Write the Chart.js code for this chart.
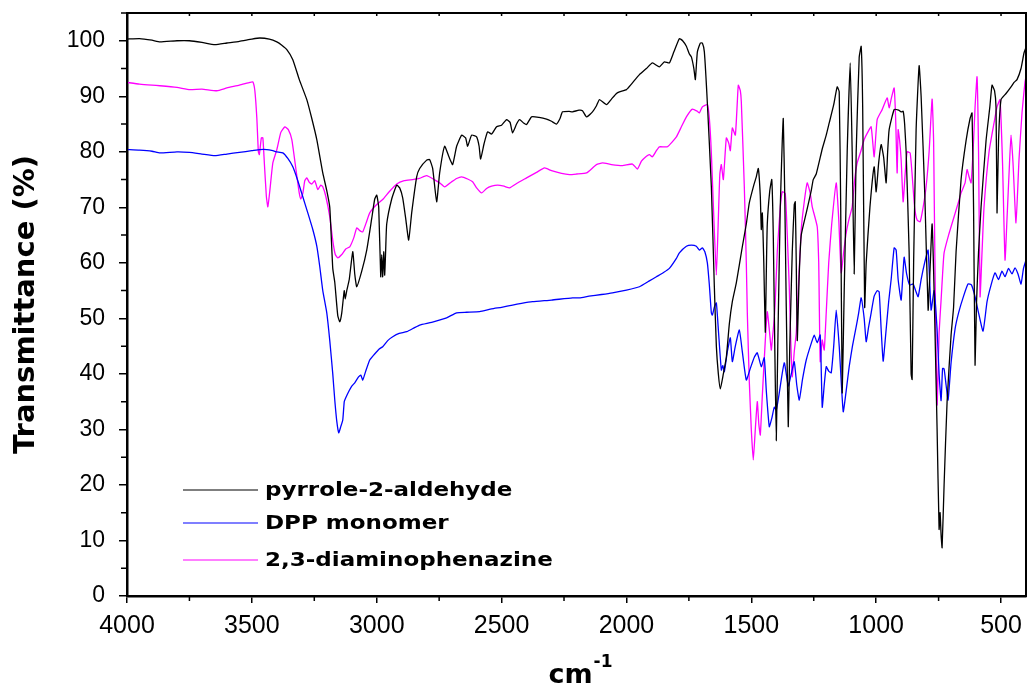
<!DOCTYPE html>
<html>
<head>
<meta charset="utf-8">
<script src="https://cdn.jsdelivr.net/npm/chart.js@4.4.0/dist/chart.umd.min.js"></script>
<style>
  html, body { margin: 0; padding: 0; background: #fff; }
  #wrap { width: 1027px; height: 687px; position: relative; }
</style>
</head>
<body>
<div id="wrap"><canvas id="ftir"></canvas></div>
<script>
// [wavenumber cm-1, transmittance %]
const pyrrole = [
  [4000,100.3],[3950,100.4],[3900,100.1],[3868,99.8],[3800,100.0],[3750,100.0],[3700,99.7],[3648,99.3],
  [3600,99.6],[3550,99.9],[3500,100.3],[3468,100.5],[3430,100.3],[3400,99.8],[3380,99.2],[3360,98.4],
  [3336,96.6],[3310,93],[3280,89.4],[3260,86],[3240,82.2],[3216,76.2],[3200,73],[3188,70],[3176,59],
  [3168,56.5],[3156,50.5],[3148,49.4],[3140,51],[3130,55],[3126,53.5],[3120,55],[3110,57],[3096,62],
  [3088,58],[3080,55.7],[3060,58.5],[3040,62.3],[3020,68],[3008,71.5],[3000,72.2],[2992,70],[2984,57.5],
  [2980,61.5],[2976,57.5],[2972,62],[2968,57.8],[2964,62.5],[2960,67],[2940,71.5],[2920,74],[2908,73.5],
  [2896,71.7],[2884,68],[2872,64.1],[2860,69],[2840,75.5],[2828,77],[2800,78.5],[2788,78.6],[2776,77],
  [2760,71],[2748,76.2],[2728,81],[2710,79],[2696,77.7],[2680,81],[2660,83],[2644,82.5],[2636,81],
  [2620,83],[2600,82.7],[2590,81],[2584,78.7],[2570,81.5],[2556,83.6],[2540,83.2],[2520,84.5],[2500,84.8],
  [2480,85.8],[2466,85.3],[2456,83.4],[2440,85],[2428,85.8],[2412,85.2],[2400,84.9],[2380,86.3],[2350,86.2],
  [2320,85.9],[2300,85.5],[2280,85],[2266,86],[2256,87.2],[2230,87.3],[2216,87.2],[2190,87.5],[2176,87.4],
  [2160,86.3],[2136,87.2],[2120,88.3],[2108,89.4],[2080,88.5],[2060,89.5],[2040,90.5],[2028,90.8],[2000,91.2],
  [1980,92.2],[1948,93.9],[1920,95],[1896,96],[1868,95.3],[1848,96.2],[1828,96],[1810,98],[1788,100.4],
  [1775,100],[1760,99],[1748,97.6],[1740,97.1],[1730,95],[1724,93],[1716,98],[1704,99.6],[1696,99.6],
  [1688,98],[1676,88.8],[1660,73.7],[1648,55.7],[1640,45],[1632,40],[1624,37.3],[1612,40],[1600,43],
  [1588,49],[1576,53],[1560,56.4],[1536,62.9],[1520,67],[1508,70.8],[1490,74],[1480,75.5],[1472,77],
  [1464,72],[1460,66],[1456,69],[1450,60],[1444,47.5],[1440,58],[1436,67],[1426,73],[1418,75],[1412,65],
  [1406,45],[1400,28],[1394,45],[1384,70],[1376,82],[1372,86],[1366,72],[1360,52],[1352,30.5],[1346,45],
  [1336,62],[1328,70.5],[1324,71],[1320,60],[1316,46],[1308,58],[1300,65],[1280,69],[1260,73],[1252,75],
  [1240,76],[1216,80.5],[1200,83],[1188,85.2],[1170,88.5],[1156,91.7],[1148,90.8],[1142,70],[1136,36.6],
  [1128,55],[1116,80],[1104,96],[1096,80],[1088,58],[1080,80],[1068,97],[1060,99],[1054,88],[1046,52],
  [1040,60],[1025,70],[1008,77.3],[1000,72.8],[990,78],[980,81.3],[970,79],[960,74.4],[954,80],[948,84],
  [928,87.6],[910,87.5],[900,87.2],[892,87.3],[886,85],[880,80],[868,62],[860,40],[856,39],[850,60],
  [840,84],[828,95.5],[820,90],[805,72],[792,51.5],[785,58],[776,67],[768,55],[756,30],[748,12],[744,15],
  [740,11],[736,8.7],[728,20],[716,35],[700,47],[690,52],[680,62],[660,75],[640,82],[624,86],[616,87],
  [610,70],[604,41.6],[598,53],[590,62],[580,70],[560,82],[545,88],[536,92],[526,91],[520,88],[516,69],
  [510,82],[500,89.4],[480,90.5],[460,91.7],[448,92.5],[436,93],[420,95],[408,97.8],[400,98.8]
];

const dppMonomer = [
  [4000,80.4],[3950,80.3],[3900,80.1],[3868,79.8],[3800,80.0],[3750,79.9],[3700,79.6],[3648,79.3],
  [3600,79.6],[3550,79.9],[3500,80.2],[3468,80.4],[3440,80.4],[3416,80.2],[3400,80.0],[3376,79.8],
  [3356,78.8],[3336,77.3],[3316,74.8],[3296,71.9],[3276,69],[3256,66],[3240,63],[3228,59.3],[3216,55],
  [3200,51],[3188,46],[3176,40],[3168,35.3],[3160,31.5],[3152,29.4],[3144,30.5],[3136,31.7],[3130,35],
  [3124,35.7],[3110,37],[3100,37.8],[3088,38.4],[3072,39.5],[3064,39.8],[3056,38.9],[3044,40.5],[3028,42.5],
  [3010,43.5],[2990,44.5],[2976,44.9],[2956,46],[2936,46.7],[2910,47.3],[2880,47.6],[2850,48.3],[2828,48.8],
  [2780,49.3],[2720,50.1],[2680,51],[2640,51.1],[2588,51.2],[2540,51.7],[2500,52],[2456,52.4],[2420,52.7],
  [2376,53],[2300,53.3],[2216,53.7],[2188,53.7],[2150,54],[2100,54.3],[2056,54.6],[2000,55.1],[1948,55.7],
  [1910,56.7],[1880,57.5],[1850,58.3],[1828,59],[1800,60.8],[1788,61.8],[1760,63],[1740,63.2],[1720,63],
  [1708,62.3],[1696,62.7],[1686,62],[1676,60],[1668,56],[1660,51],[1656,50.6],[1648,52],[1640,52.8],
  [1632,48],[1620,40.7],[1614,41.5],[1608,40.4],[1596,44],[1584,46.5],[1576,42.2],[1564,45],[1548,47.9],
  [1536,44],[1520,38.9],[1504,41],[1488,43],[1476,43.8],[1460,41.3],[1448,42.9],[1440,37],[1428,30.5],
  [1418,32],[1408,34],[1400,33.5],[1390,36],[1368,42],[1352,37.8],[1340,40],[1328,42.2],[1318,38],
  [1308,35.3],[1295,39],[1280,42.5],[1260,45.5],[1248,47],[1236,45.6],[1224,47],[1216,34],[1208,38],
  [1200,41.3],[1190,40.5],[1180,40.2],[1170,45],[1160,51.5],[1148,45],[1132,33.2],[1120,37],[1108,41.3],
  [1095,45],[1080,48.5],[1070,51],[1060,53.7],[1048,50],[1040,45.8],[1030,48.5],[1020,51],[1008,54],
  [996,55],[988,54.8],[980,48],[972,42.3],[964,46],[950,53],[940,57],[928,62.7],[920,62.3],[912,57],
  [900,53.3],[888,61],[878,58],[866,56],[852,56.2],[842,55],[832,53.9],[820,57],[806,60],[792,62.3],
  [780,51.5],[768,55],[756,48],[748,40],[740,35.2],[734,41],[728,40.9],[720,38],[712,35.3],[700,42],
  [684,48.1],[670,51],[650,54],[632,56.2],[618,56],[604,53.9],[590,51],[572,47.7],[556,53],[540,56],
  [524,58.2],[510,57],[496,58.5],[484,57.5],[470,59],[456,58],[444,59.1],[432,58],[420,56.2],[410,59],
  [400,60.5]
];

const diaminophenazine = [
  [4000,92.5],[3950,92.2],[3900,92.0],[3868,91.9],[3800,91.6],[3748,91.2],[3700,91.3],[3640,91.0],
  [3600,91.5],[3550,92.0],[3508,92.5],[3496,92.6],[3488,91],[3480,86],[3474,80],[3470,79.5],[3462,82.5],
  [3456,82.5],[3450,78],[3442,72],[3436,70.1],[3428,73],[3416,78],[3400,80.4],[3384,83.5],[3368,84.5],
  [3354,84],[3340,82.2],[3324,77],[3310,72.5],[3304,71.5],[3296,72.5],[3288,74.8],[3280,75.3],[3270,74.5],
  [3260,74.2],[3248,74.8],[3236,73.2],[3224,74],[3216,73.7],[3204,72],[3188,68.3],[3176,64],[3166,61.5],
  [3156,60.9],[3140,61.5],[3124,62.5],[3108,62.9],[3092,64.5],[3080,66.3],[3068,65.8],[3056,65.6],
  [3040,67.5],[3028,69],[3000,70.5],[2976,71.4],[2950,72.8],[2920,74.2],[2890,74.8],[2856,75],[2830,75.2],
  [2800,75.7],[2770,75],[2748,74.4],[2728,73.7],[2700,74.6],[2680,75.2],[2660,75.5],[2636,75.1],[2616,74.6],
  [2600,73.5],[2580,72.6],[2560,73.4],[2540,73.8],[2516,74],[2490,73.8],[2468,73.5],[2440,74.3],[2400,75.3],
  [2360,76.3],[2328,77.1],[2300,76.6],[2260,76.1],[2228,75.9],[2200,76],[2160,76.2],[2120,77.7],[2096,78],
  [2060,77.7],[2016,77.5],[1976,77.8],[1956,76.9],[1940,78.3],[1920,79.2],[1908,79.5],[1896,79.1],[1880,80.2],
  [1868,80.9],[1836,80.9],[1800,82.7],[1780,84.5],[1760,86.3],[1736,87.7],[1716,87.3],[1708,87],[1696,88.1],
  [1676,88.5],[1668,86],[1660,79.8],[1650,68],[1640,57.8],[1632,68],[1626,76],[1620,77.7],[1612,75],
  [1600,82.5],[1590,81.5],[1584,80.2],[1576,84.3],[1564,83],[1556,89],[1552,92],[1544,91],[1540,89],
  [1528,73.7],[1520,60],[1516,51],[1508,38.6],[1500,30],[1492,24.5],[1484,30],[1476,35],[1470,31],
  [1464,29],[1456,36],[1444,46],[1436,51.2],[1428,48],[1420,44.3],[1416,46.1],[1408,50],[1404,53.3],
  [1396,62],[1384,70],[1376,72.8],[1364,72.5],[1356,65],[1348,55.7],[1342,46],[1336,39.5],[1328,44],
  [1320,47.4],[1310,57],[1300,66],[1288,71],[1276,74.4],[1264,72.5],[1256,70.1],[1236,66.5],[1230,60],
  [1228,53.3],[1224,42.2],[1216,46.1],[1208,44.3],[1200,51],[1190,60],[1178,67],[1160,74.4],[1150,68],
  [1140,58.2],[1130,62],[1120,65.4],[1108,68],[1096,70.1],[1086,75],[1076,78],[1062,80],[1048,82.2],
  [1034,83.5],[1020,84.5],[1008,79.1],[996,85.8],[976,87.6],[956,89.7],[948,87.9],[940,89.5],[928,91.5],
  [922,86],[916,76.2],[912,84],[906,82],[900,78.6],[892,71],[884,76],[876,80],[864,79.8],[856,75.9],
  [846,70],[836,67.7],[824,67.4],[812,70],[800,73.7],[788,80],[776,89.5],[770,82],[768,73.7],[762,50],
  [756,34.4],[752,40],[748,47.4],[740,53.3],[734,58],[728,61.8],[710,65],[688,68.3],[670,71],[660,72.6],
  [644,74.4],[636,76.8],[628,75.5],[620,74.4],[612,80],[604,88],[596,93.5],[590,80],[584,53.9],[576,62],
  [568,70.1],[548,80],[528,85.2],[516,88.1],[504,89.4],[494,78],[484,60.5],[476,68],[466,78],[460,83],
  [452,78],[440,67.2],[428,78.6],[416,87],[404,92.6],[400,93.5]
];

const seriesNames = ['pyrrole-2-aldehyde', 'DPP monomer', '2,3-diaminophenazine'];
const seriesColors = ['#000000', '#0000ff', '#ff00ff'];

const xTicks = [4000, 3500, 3000, 2500, 2000, 1500, 1000, 500];
const xMinorTicks = [3750, 3250, 2750, 2250, 1750, 1250, 750];
const yTicks = [0, 10, 20, 30, 40, 50, 60, 70, 80, 90, 100];
const yMinorTicks = [5, 15, 25, 35, 45, 55, 65, 75, 85, 95, 105];

const toXY = arr => arr.map(p => ({ x: p[0], y: p[1] }));

// frame, minor ticks, legend inside plot, x title with superscript
const decorations = {
  id: 'decorations',
  afterDraw(chart) {
    const { ctx, chartArea: a, scales } = chart;
    const xs = scales.x, ys = scales.y;
    ctx.save();
    ctx.strokeStyle = '#000';
    ctx.lineWidth = 2;
    ctx.strokeRect(a.left, a.top, a.right - a.left, a.bottom - a.top);

    ctx.lineWidth = 1.5;
    ctx.beginPath();
    xMinorTicks.forEach(v => {
      const px = xs.getPixelForValue(v);
      ctx.moveTo(px, a.bottom); ctx.lineTo(px, a.bottom + 5);
    });
    xTicks.concat(xMinorTicks).forEach(v => {
      const px = xs.getPixelForValue(v);
      ctx.moveTo(px, a.top); ctx.lineTo(px, a.top + 3);
    });
    yMinorTicks.forEach(v => {
      const py = ys.getPixelForValue(v);
      ctx.moveTo(a.left, py); ctx.lineTo(a.left - 6, py);
    });
    ctx.stroke();

    // legend
    const legY = [490, 523, 560];
    chart.data.datasets.forEach((ds, i) => {
      ctx.strokeStyle = ds.borderColor;
      ctx.lineWidth = 1.2;
      ctx.beginPath();
      ctx.moveTo(183, legY[i]); ctx.lineTo(258, legY[i]);
      ctx.stroke();
      ctx.save();
      ctx.fillStyle = '#000';
      ctx.font = 'bold 20px "DejaVu Sans"';
      ctx.textBaseline = 'middle';
      ctx.textAlign = 'left';
      ctx.translate(265, legY[i] + 1);
      ctx.scale(1.15, 1);
      ctx.fillText(ds.label, 0, 0);
      ctx.restore();
    });

    // x title: cm^-1
    ctx.fillStyle = '#000';
    ctx.textBaseline = 'alphabetic';
    ctx.font = 'bold 27px "DejaVu Sans"';
    const base = 683;
    const w = ctx.measureText('cm').width;
    const cx = (a.left + a.right) / 2;
    ctx.fillText('cm', cx - w / 2 - 6, base);
    ctx.font = 'bold 17px "DejaVu Sans"';
    ctx.fillText('-1', cx + w / 2 - 5, base - 16);
    ctx.restore();
  }
};

new Chart(document.getElementById('ftir'), {
  type: 'line',
  data: {
    datasets: [pyrrole, dppMonomer, diaminophenazine].map((s, i) => ({
      label: seriesNames[i],
      data: toXY(s),
      borderColor: seriesColors[i],
      backgroundColor: seriesColors[i],
      borderWidth: 1.3,
      pointRadius: 0,
      tension: 0.15,
      fill: false
    }))
  },
  options: {
    responsive: true,
    maintainAspectRatio: false,
    animation: false,
    layout: { padding: { top: 13, right: 1, left: 0, bottom: 0 } },
    plugins: { legend: { display: false }, tooltip: { enabled: false } },
    scales: {
      x: {
        type: 'linear',
        reverse: true,
        min: 400,
        max: 4000,
        afterBuildTicks: s => { s.ticks = xTicks.map(v => ({ value: v })); },
        afterFit: s => { s.height = 91; s.paddingLeft = 0; s.paddingRight = 0; },
        border: { display: true, color: '#000', width: 2.5 },
        grid: { drawOnChartArea: false, drawTicks: true, tickLength: 7, color: '#000', lineWidth: 1.5 },
        ticks: { color: '#000', padding: 8, maxRotation: 0, callback: v => String(v),
                 font: { family: '"Liberation Sans", Arial', size: 25 } }
      },
      y: {
        min: 0,
        max: 105,
        afterBuildTicks: s => { s.ticks = yTicks.map(v => ({ value: v })); },
        afterFit: s => { s.width = 127; s.paddingTop = 0; s.paddingBottom = 0; },
        border: { display: true, color: '#000', width: 2.5 },
        grid: { drawOnChartArea: false, drawTicks: true, tickLength: 8, color: '#000', lineWidth: 1.5 },
        ticks: { color: '#000', padding: 14, callback: v => String(v),
                 font: { family: '"Liberation Sans", Arial', size: 23 } },
        title: { display: true, text: 'Transmittance (%)', color: '#000',
                 padding: { top: 9, bottom: 0 },
                 font: { family: '"DejaVu Sans"', weight: 'bold', size: 29 } }
      }
    }
  },
  plugins: [decorations]
});
</script>
</body>
</html>
